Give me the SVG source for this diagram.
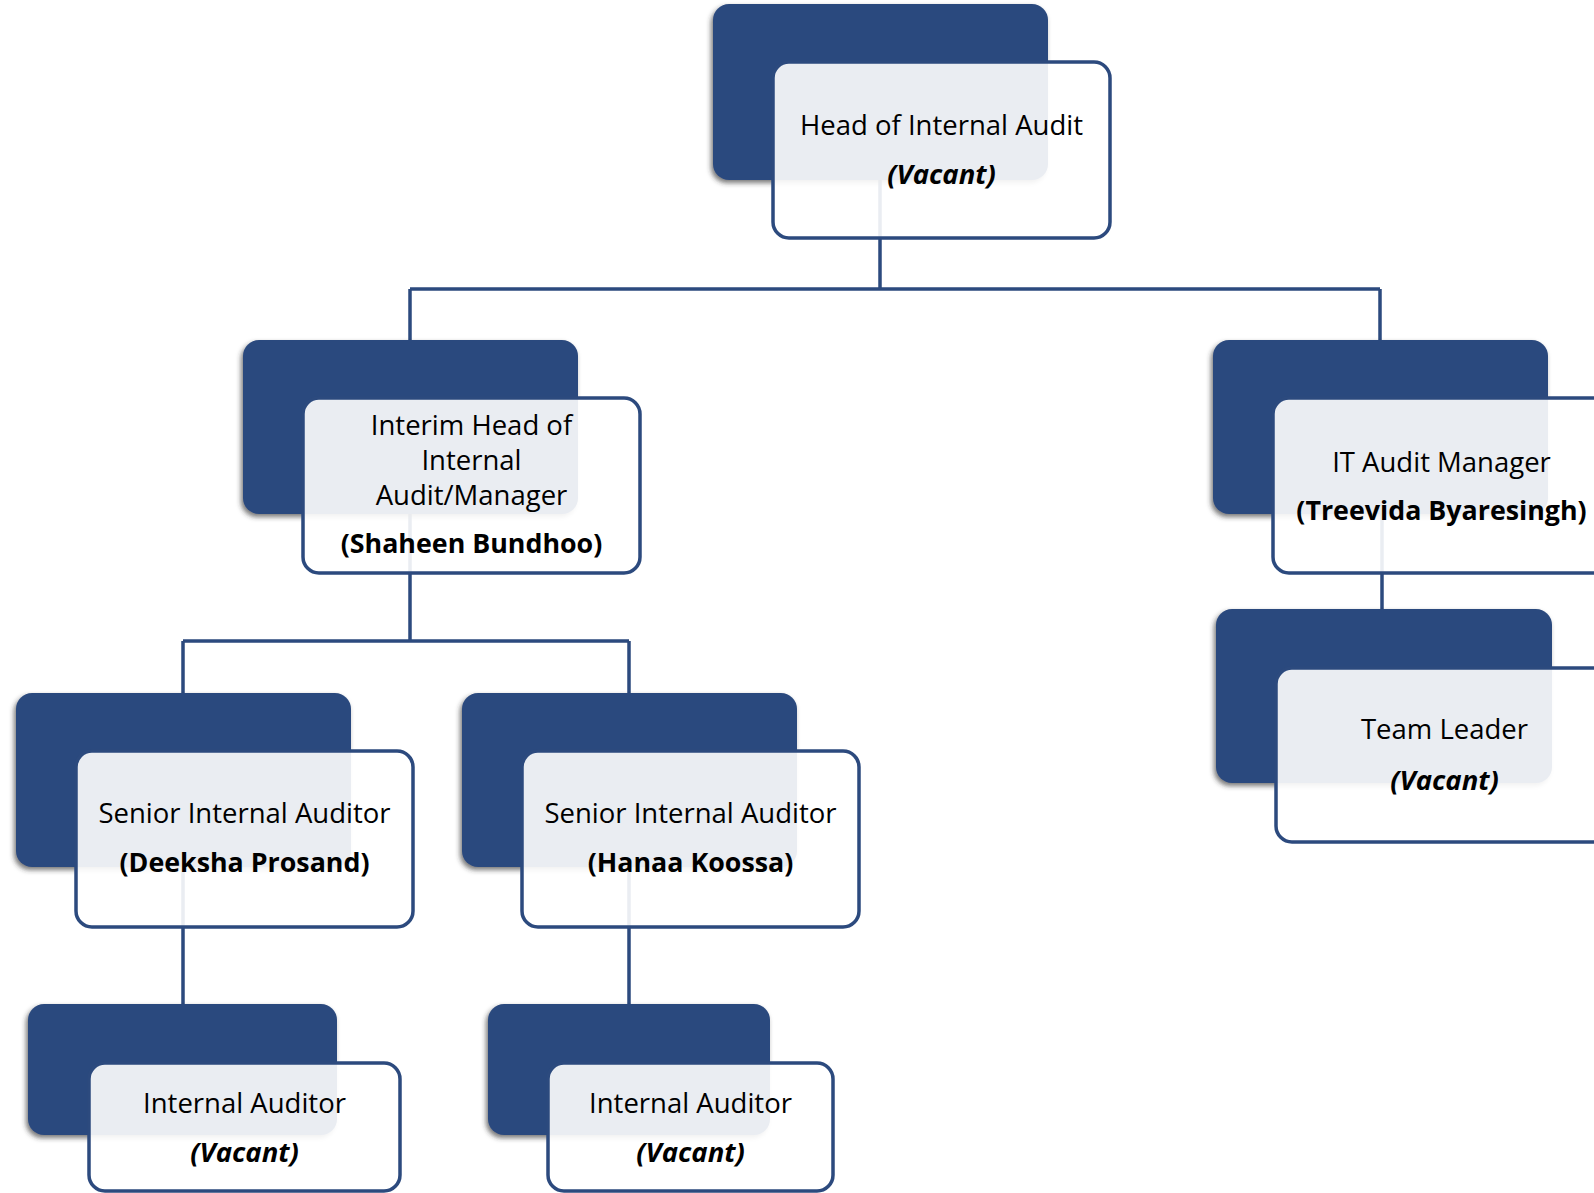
<svg xmlns="http://www.w3.org/2000/svg" width="1594" height="1193" viewBox="0 0 1594 1193">
<defs>
<filter id="sh" x="-10%" y="-10%" width="120%" height="125%">
<feDropShadow dx="-2" dy="3" stdDeviation="2.5" flood-color="#333333" flood-opacity="0.65"/>
</filter>
<style>
.dark{fill:#2C4A7E;filter:url(#sh);}
.card{fill:#ffffff;fill-opacity:0.9;stroke:#2C4A7E;stroke-width:3.5;}
.conn{fill:none;stroke:#2C4A7E;stroke-width:3.5;}
text{font-family:"Open Sans","Liberation Sans",sans-serif;font-size:27.5px;fill:#000;text-anchor:middle;}
.b{font-weight:bold;font-size:26.8px;}
.bi{font-weight:bold;font-style:italic;}
</style>
</defs>
<rect width="1594" height="1193" fill="#ffffff"/>
<g id="connectors">
<path class="conn" d="M880,180 V289 M410,289 H1380 M410,289 V341 M1380,289 V341"/>
<path class="conn" d="M1382,514 V609"/>
<path class="conn" d="M410,514 V641 M183,641 H629 M183,641 V693 M629,641 V693"/>
<path class="conn" d="M183,867 V1004 M629,867 V1004"/>
</g>
<g id="head">
<rect class="dark" x="713" y="4" width="335" height="176" rx="16"/>
<rect class="card" x="773" y="62" width="337" height="176" rx="16"/>
<text x="941.5" y="135">Head of Internal Audit</text>
<text class="bi" x="941.5" y="184">(Vacant)</text>
</g>
<g id="interim">
<rect class="dark" x="243" y="340" width="335" height="174" rx="16"/>
<rect class="card" x="303" y="398" width="337" height="175" rx="16"/>
<text x="471.5" y="435">Interim Head of</text>
<text x="471.5" y="470">Internal</text>
<text x="471.5" y="505">Audit/Manager</text>
<text class="b" x="471.5" y="553">(Shaheen Bundhoo)</text>
</g>
<g id="itmanager">
<rect class="dark" x="1213" y="340" width="335" height="174" rx="16"/>
<rect class="card" x="1273" y="398" width="337" height="175" rx="16"/>
<text x="1441.5" y="472">IT Audit Manager</text>
<text class="b" x="1441.5" y="520">(Treevida Byaresingh)</text>
</g>
<g id="teamleader">
<rect class="dark" x="1216" y="609" width="336" height="174" rx="16"/>
<rect class="card" x="1276" y="668" width="337" height="174" rx="16"/>
<text x="1444.5" y="739">Team Leader</text>
<text class="bi" x="1444.5" y="790">(Vacant)</text>
</g>
<g id="senior1">
<rect class="dark" x="16" y="693" width="335" height="174" rx="16"/>
<rect class="card" x="76" y="751" width="337" height="176" rx="16"/>
<text x="244.5" y="823">Senior Internal Auditor</text>
<text class="b" x="244.5" y="872">(Deeksha Prosand)</text>
</g>
<g id="senior2">
<rect class="dark" x="462" y="693" width="335" height="174" rx="16"/>
<rect class="card" x="522" y="751" width="337" height="176" rx="16"/>
<text x="690.5" y="823">Senior Internal Auditor</text>
<text class="b" x="690.5" y="872">(Hanaa Koossa)</text>
</g>
<g id="auditor1">
<rect class="dark" x="28" y="1004" width="309" height="131" rx="16"/>
<rect class="card" x="89" y="1063" width="311" height="128" rx="16"/>
<text x="244.5" y="1113">Internal Auditor</text>
<text class="bi" x="244.5" y="1162">(Vacant)</text>
</g>
<g id="auditor2">
<rect class="dark" x="488" y="1004" width="282" height="131" rx="16"/>
<rect class="card" x="548" y="1063" width="285" height="128" rx="16"/>
<text x="690.5" y="1113">Internal Auditor</text>
<text class="bi" x="690.5" y="1162">(Vacant)</text>
</g>
</svg>
